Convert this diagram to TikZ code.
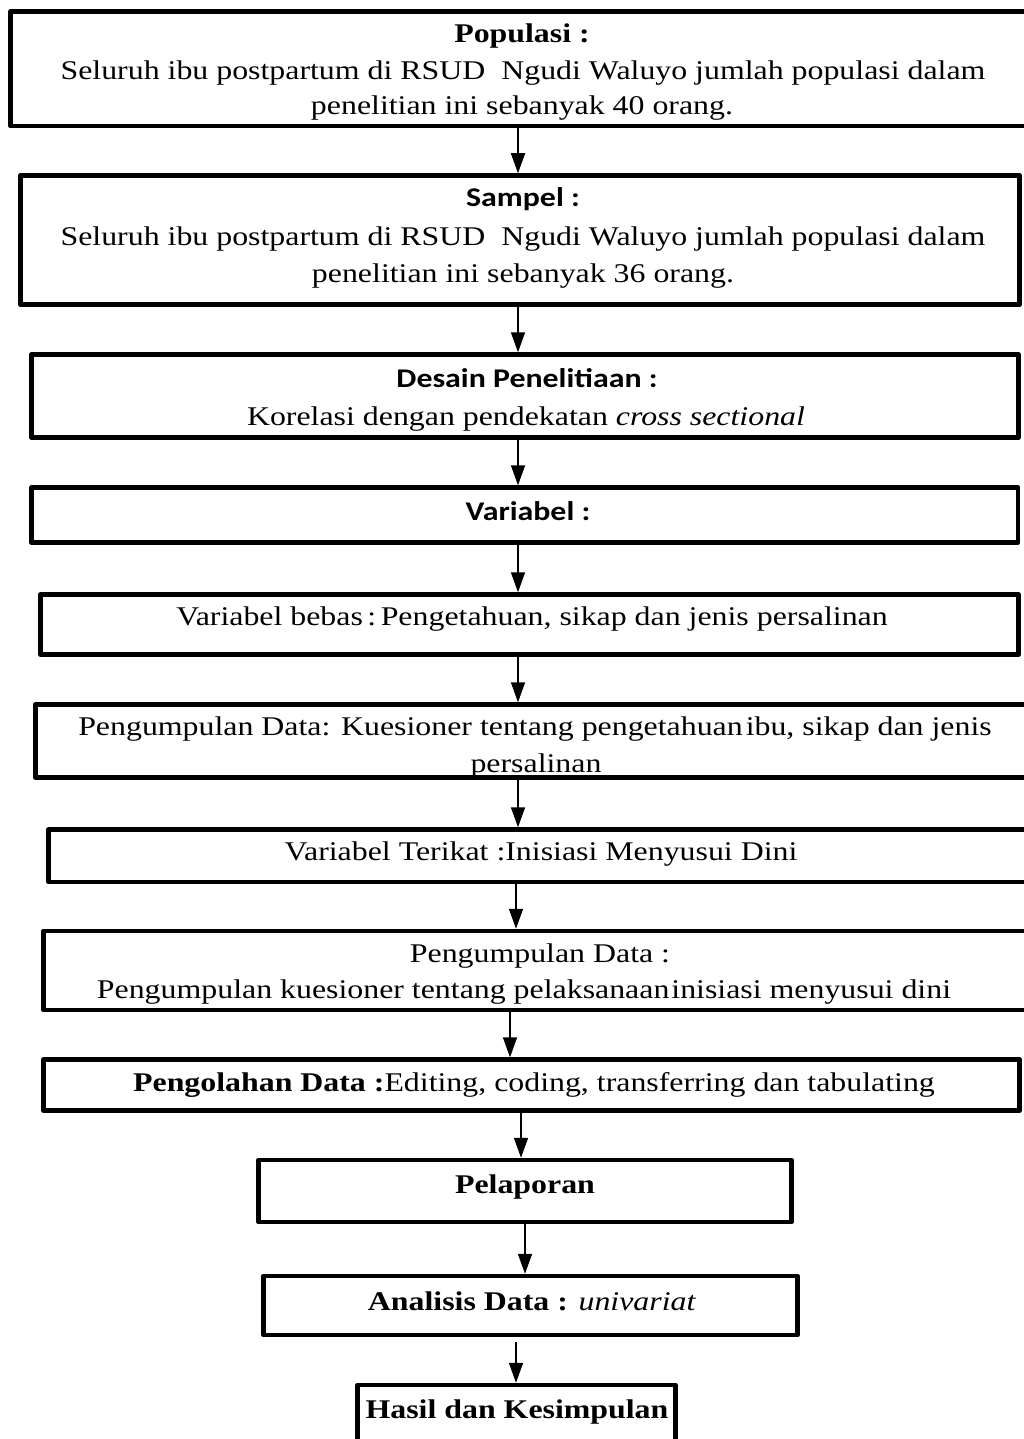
\documentclass[tikz,border=0pt]{standalone}
\usepackage{fontspec}
\setmainfont{Liberation Serif}[FakeStretch=1.18]
\newfontfamily\calib{Carlito}[FakeStretch=1.18]
\usetikzlibrary{arrows.meta}
\tikzset{
  box/.style={draw=black, line width=4.5pt, line join=round, fill=white, inner sep=0pt},
  txt/.style={anchor=base, inner sep=0pt, font=\fontsize{27}{33}\selectfont},
  arr/.style={draw=black, line width=1.6pt, -{Triangle[length=20pt,width=14pt]}}
}
\begin{document}
\begin{tikzpicture}[x=1pt,y=-1pt]
\useasboundingbox (0,0) rectangle (1024,1439);
\clip (0,0) rectangle (1024,1439);
\fill[white] (0,0) rectangle (1024,1439);
% boxes
\node[box, minimum width=1029.5pt, minimum height=114.5pt] (b1) at (525.25,68.75) {};
\node[box, minimum width=999pt, minimum height=129pt] (b2) at (520,240) {};
\node[box, minimum width=987pt, minimum height=83pt] (b3) at (525,396) {};
\node[box, minimum width=986.5pt, minimum height=55pt] (b4) at (524.75,515) {};
\node[box, minimum width=978pt, minimum height=60pt] (b5) at (529.5,624.5) {};
\node[box, minimum width=1004.5pt, minimum height=73pt] (b6) at (537.75,741) {};
\node[box, minimum width=991.5pt, minimum height=52.5pt] (b7) at (544.25,855.75) {};
\node[box, minimum width=996.5pt, minimum height=79pt] (b8) at (541.75,970.5) {};
\node[box, minimum width=976pt, minimum height=51pt] (b9) at (531.5,1085) {};
\node[box, minimum width=533pt, minimum height=62pt] (b10) at (525,1191) {};
\node[box, minimum width=534pt, minimum height=59pt] (b11) at (530.5,1305.5) {};
\node[box, minimum width=318pt, minimum height=75pt] (b12) at (516.5,1422.5) {};
% texts
\node[txt] (t1a) at (522,43) {\textbf{Populasi :}};
\node[txt] (t1b) at (523,80) {Seluruh ibu postpartum di RSUD\ \ Ngudi Waluyo jumlah populasi dalam};
\node[txt] (t1c) at (522,115) {penelitian ini sebanyak 40 orang.};
\node[txt] (t2a) at (523,207) {\calib\bfseries Sampel :};
\node[txt] (t2b) at (523,246) {Seluruh ibu postpartum di RSUD\ \ Ngudi Waluyo jumlah populasi dalam};
\node[txt] (t2c) at (523,282) {penelitian ini sebanyak 36 orang.};
\node[txt] (t3a) at (527,387) {\calib\bfseries Desain Penelitiaan :};
\node[txt] (t3b) at (526,425) {Korelasi dengan pendekatan \textit{cross sectional}};
\node[txt] (t4) at (528,520) {\calib\bfseries Variabel :};
\node[txt] (t5) at (532,625) {Variabel bebas\,:\,Pengetahuan, sikap dan jenis persalinan};
\node[txt] (t6a) at (535,735) {Pengumpulan Data: Kuesioner tentang pengetahuan\hspace{3pt}ibu, sikap dan jenis};
\node[txt] (t6b) at (536,772) {persalinan};
\node[txt] (t7) at (541,860) {Variabel Terikat :Inisiasi Menyusui Dini};
\node[txt] (t8a) at (540,962) {Pengumpulan Data :};
\node[txt] (t8b) at (524,998) {Pengumpulan kuesioner tentang pelaksanaan\hspace{2pt}inisiasi menyusui dini};
\node[txt] (t9) at (534,1091) {\textbf{Pengolahan Data :}Editing, coding, transferring dan tabulating};
\node[txt] (t10) at (525,1193) {\textbf{Pelaporan}};
\node[txt] (t11) at (532,1310) {\textbf{Analisis Data :} \textit{univariat}};
\node[txt] (t12) at (517,1418) {\textbf{Hasil dan Kesimpulan}};
% arrow x positions
\coordinate (x1) at (518,0);
\coordinate (x7) at (516,0);
\coordinate (x8) at (510,0);
\coordinate (x9) at (521,0);
\coordinate (x10) at (525,0);
\coordinate (x11) at (516,0);
\draw[arr] (b1.south -| x1) -- (b2.north -| x1);
\draw[arr] (b2.south -| x1) -- (b3.north -| x1);
\draw[arr] (b3.south -| x1) -- (b4.north -| x1);
\draw[arr] (b4.south -| x1) -- (b5.north -| x1);
\draw[arr] (b5.south -| x1) -- (b6.north -| x1);
\draw[arr] (b6.south -| x1) -- (b7.north -| x1);
\draw[arr] (b7.south -| x7) -- (b8.north -| x7);
\draw[arr] (b8.south -| x8) -- (b9.north -| x8);
\draw[arr] (b9.south -| x9) -- (b10.north -| x9);
\draw[arr] (b10.south -| x10) -- (b11.north -| x10);
\draw[arr, shorten <=5pt] (b11.south -| x11) -- (b12.north -| x11);
\end{tikzpicture}
\end{document}
